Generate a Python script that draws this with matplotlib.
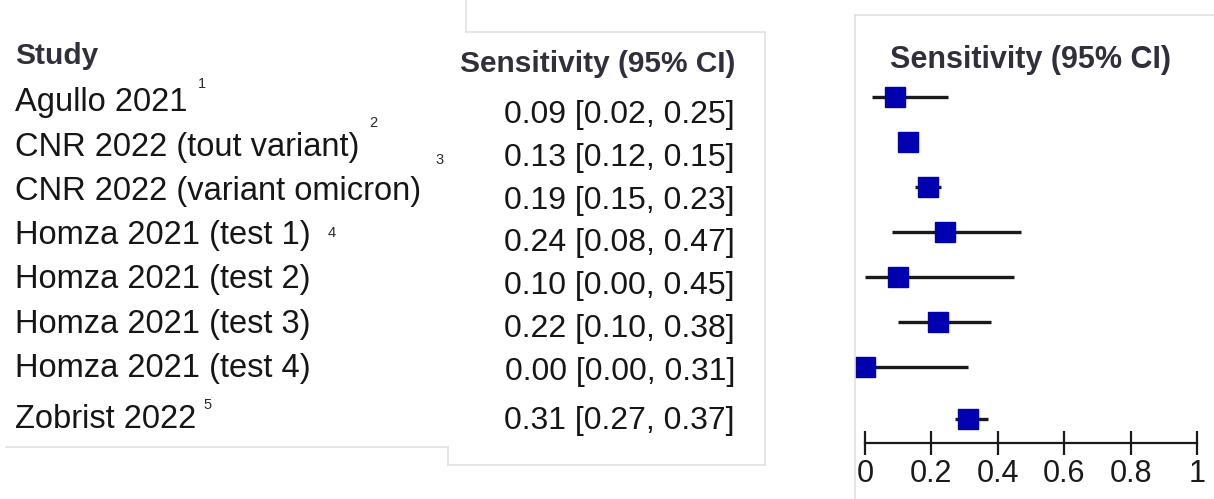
import numpy as np
import matplotlib
matplotlib.use("Agg")
import matplotlib.pyplot as plt
from matplotlib.lines import Line2D

plt.rcParams['font.family'] = ['Liberation Sans', 'DejaVu Sans']

studies = ["Agullo 2021", "CNR 2022 (tout variant)", "CNR 2022 (variant omicron)",
           "Homza 2021 (test 1)", "Homza 2021 (test 2)", "Homza 2021 (test 3)",
           "Homza 2021 (test 4)", "Zobrist 2022"]
sens = [0.09, 0.13, 0.19, 0.24, 0.10, 0.22, 0.00, 0.31]
ci_low = [0.02, 0.12, 0.15, 0.08, 0.00, 0.10, 0.00, 0.27]
ci_high = [0.25, 0.15, 0.23, 0.47, 0.45, 0.38, 0.31, 0.37]
refs = ["1", "2", "3", "4", "", "", "", "5"]
xticks = [0, 0.2, 0.4, 0.6, 0.8, 1]
xtick_labels = ["0", "0.2", "0.4", "0.6", "0.8", "1"]

# layout (pixels)
W, H = 1214, 499
rows = np.array([0, 1, 2, 3, 4, 5, 6, 7.15])
ref_pos = [(202, -0.43), (373, -0.54), (440, -0.7), (332, -0.05),
           None, None, None, (208, -0.32)]
TXT = '#161616'
HEAD = '#30303c'
BOX = '#e2e2e2'

fig = plt.figure(figsize=(W / 100, H / 100), dpi=100)


def panel(x0, x1, y_first, row_h):
    ax = fig.add_axes([x0 / W, 0, (x1 - x0) / W, 1])
    ax.set_ylim((H - y_first) / row_h, -y_first / row_h)
    ax.axis('off')
    return ax


# study column
ax_l = panel(0, 450, 103, 44.2)
ax_l.set_xlim(0, 450)
ax_l.text(15, -1.06, "Study", fontsize=21.5, fontweight='bold', color=HEAD,
          va='center', ha='left')
for i, name in enumerate(studies):
    ax_l.text(15, rows[i], name, fontsize=23.5, color=TXT, va='center', ha='left')
    if ref_pos[i] is not None:
        ax_l.text(ref_pos[i][0], rows[i] + ref_pos[i][1], refs[i], fontsize=10.5,
                  color='#2a2a2a', va='center', ha='center')

# values column
ax_m = panel(450, 770, 115, 42.8)
ax_m.set_xlim(450, 770)
ax_m.text(735, -1.19, "Sensitivity (95% CI)", fontsize=21.5, fontweight='bold',
          color=HEAD, va='center', ha='right')
for i in range(len(studies)):
    ax_m.text(735, rows[i], f"{sens[i]:.2f} [{ci_low[i]:.2f}, {ci_high[i]:.2f}]",
              fontsize=23, color=TXT, va='center', ha='right')

# forest plot
ax_r = fig.add_axes([855 / W, 0, (W - 855) / W, 1])
ax_r.set_xlim((855 - 865) / 332, (W - 865) / 332)
ax_r.set_ylim((H - 97) / 45, -97 / 45)
ax_r.hlines(rows, ci_low, ci_high, color='#1a1a1a', lw=2.4)
ax_r.plot(sens, rows, 's', color='#0000b0', markersize=14.5, linestyle='none')
ax_r.text(0.5, -0.82, "Sensitivity (95% CI)", fontsize=22, fontweight='bold',
          color=HEAD, va='center', ha='center')
for s in ['top', 'right', 'left']:
    ax_r.spines[s].set_visible(False)
ax_r.spines['bottom'].set_position(('data', (443 - 97) / 45))
ax_r.spines['bottom'].set_bounds(0, 1)
ax_r.spines['bottom'].set_linewidth(1.6)
ax_r.spines['bottom'].set_color('#1a1a1a')
ax_r.set_yticks([])
ax_r.set_xticks(xticks)
ax_r.set_xticklabels(xtick_labels)
ax_r.tick_params(axis='x', direction='inout', length=17, width=1.6,
                 labelsize=22, pad=3, colors='#1a1a1a')
ax_r.patch.set_visible(False)

# faint panel borders
borders = [
    ((6, 448), (447, 447)), ((448, 448), (447, 465)), ((448, 765), (465, 465)),
    ((765, 765), (32, 465)), ((466, 765), (32, 32)), ((466, 466), (0, 32)),
    ((855, 855), (15, 499)), ((855, 1214), (15, 15)),
]
for xs, ys in borders:
    fig.add_artist(Line2D([x / W for x in xs], [1 - y / H for y in ys],
                          color=BOX, lw=1.2, transform=fig.transFigure))

fig.savefig("out.png", dpi=100)
